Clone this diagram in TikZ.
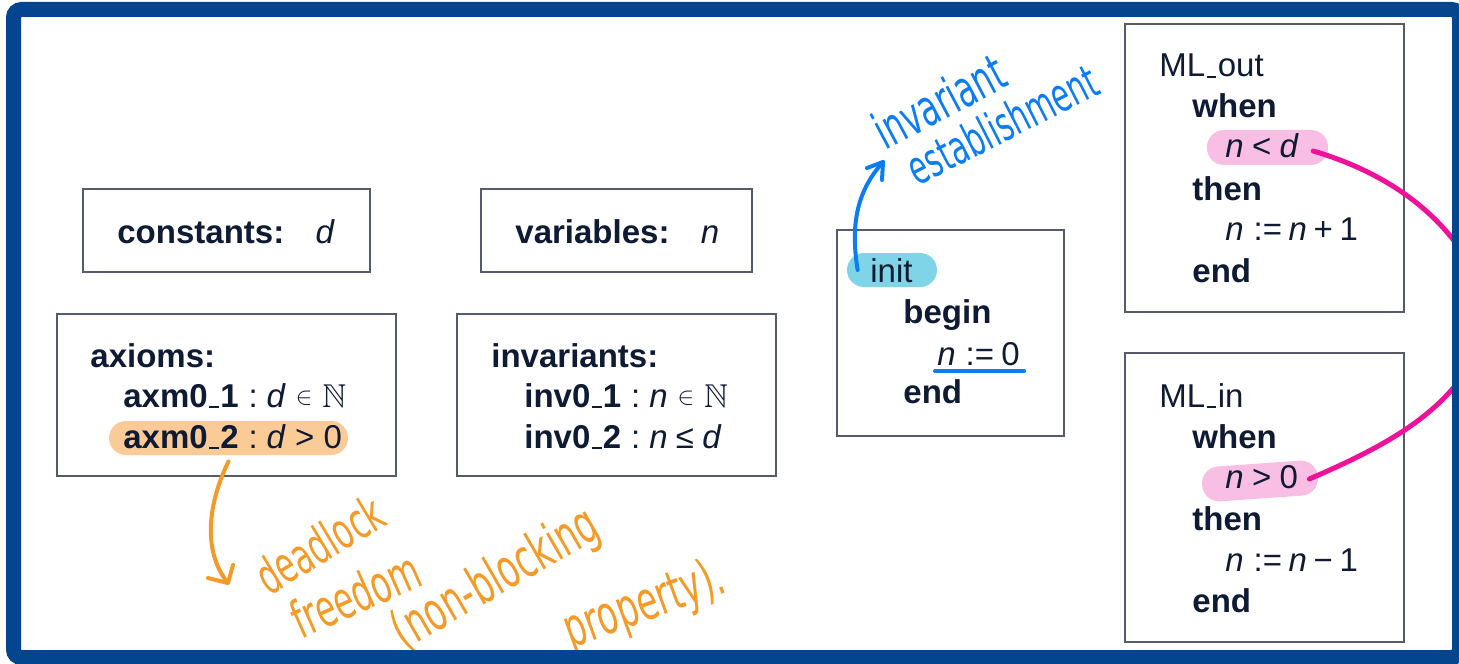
\documentclass[tikz,border=0pt]{standalone}
\usepackage{fontspec}
\usepackage{amssymb}
\setmainfont{Liberation Sans}
\newfontfamily\handfont{DejaVu Sans}[FakeStretch=0.62]
\usetikzlibrary{fit,calc}

\definecolor{framecol}{HTML}{03468F}
\definecolor{boxline}{HTML}{555B6B}
\definecolor{ink}{HTML}{0F1A33}
\definecolor{orangehl}{HTML}{FBCB97}
\definecolor{orangepen}{HTML}{F39A27}
\definecolor{cyanhl}{HTML}{80D4E8}
\definecolor{bluepen}{HTML}{0B7DF2}
\definecolor{pinkhl}{HTML}{F9BEE4}
\definecolor{pinkpen}{HTML}{EE129B}

% italic variable names, the short low underscore of the labels,
% operator spacing and a small membership sign
\newcommand\vi[1]{\textit{#1}}
\newcommand\usc{\kern0.04em\rule[-0.03em]{0.3em}{0.075em}\kern0.04em}
\newcommand\tsp{\hspace{0.2em}}
\newcommand\smallin{\raisebox{0.12ex}{\scalebox{0.72}{$\in$}}}
\newcommand\lbl[1]{\textbf{#1}\hspace{0.3em}:\hspace{0.27em}}

\tikzset{
  box/.style={draw=boxline, line width=0.9pt, inner sep=0pt},
  txt/.style={anchor=base west, inner sep=0pt, text=ink,
              font=\fontsize{16.5}{20}\selectfont},
  hl/.style={rounded corners=8.5pt, inner sep=0pt, draw=none},
  pen/.style={line width=2pt, line cap=round, line join=round},
  hand/.style={anchor=base, inner sep=0pt, font=\handfont\fontsize{26}{28}\selectfont},
}

\begin{document}
\begin{tikzpicture}[x=0.5pt, y=-0.5pt]
\useasboundingbox[fill=white] (0,0) rectangle (1459,663);

% ---- highlights (behind the text) ----
\node[hl, fill=orangehl, fit={(109,421) (348,455)}] (axhl) {};
\node[hl, fill=cyanhl, fit={(847,253) (937,287)}] (inithl) {};
\node[hl, fill=pinkhl, fit={(1207,130) (1328,165)}] (outhl) {};
\node[hl, fill=pinkhl, minimum width=58pt, minimum height=17.5pt, rotate=4] (inhl) at (1260,481) {};

% ---- constants / variables ----
\node[box, fit={(83,189) (370,272)}] (constbox) {};
\node[txt] (consttxt) at (117,243) {\bfseries constants:\hspace{0.95em}\mdseries\vi{d}};
\node[box, fit={(481,189) (752,272)}] (varbox) {};
\node[txt] (vartxt) at (515,243) {\bfseries variables:\hspace{0.95em}\mdseries\vi{n}};

% ---- axioms ----
\node[box, fit={(57,314) (396,476)}] (axbox) {};
\node[txt] (axhead) at (90,367) {\bfseries axioms:};
\node[txt] (axone) at (123,407) {\lbl{axm0\usc1}\vi{d}\hspace{0.3em}\smallin\hspace{0.3em}$\mathbb{N}$};
\node[txt] (axtwo) at (123,448) {\lbl{axm0\usc2}\vi{d}\hspace{0.28em}>\hspace{0.28em}0};

% ---- invariants ----
\node[box, fit={(457,314) (776,476)}] (invbox) {};
\node[txt] (invhead) at (491,367) {\bfseries invariants:};
\node[txt] (invone) at (524,407) {\lbl{inv0\usc1}\vi{n}\hspace{0.3em}\smallin\hspace{0.3em}$\mathbb{N}$};
\node[txt] (invtwo) at (524,448) {\lbl{inv0\usc2}\vi{n}\hspace{0.25em}≤\hspace{0.25em}\vi{d}};

% ---- init event ----
\node[box, fit={(837,230) (1064,436)}] (initbox) {};
\node[txt] (initname) at (870,282) {init};
\node[txt] (initbegin) at (903,323) {\bfseries begin};
\node[txt] (initasg) at (937,365) {\vi{n}\hspace{0.3em}:=\hspace{0.22em}0};
\node[txt] (initend) at (903,403) {\bfseries end};

% ---- ML_out event ----
\node[box, fit={(1125,24) (1404,312)}] (outbox) {};
\node[txt] (outname) at (1159,77) {ML\usc out};
\node[txt] (outwhen) at (1192,118) {\bfseries when};
\node[txt] (outgrd) at (1225,158) {\vi{n}\hspace{0.25em}<\hspace{0.25em}\vi{d}};
\node[txt] (outthen) at (1192,200) {\bfseries then};
\node[txt] (outact) at (1225,241) {\vi{n}\hspace{0.3em}:=\tsp\vi{n}\tsp+\tsp1};
\node[txt] (outend) at (1192,282) {\bfseries end};

% ---- ML_in event ----
\node[box, fit={(1125,353) (1404,642)}] (inbox) {};
\node[txt] (inname) at (1159,407) {ML\usc in};
\node[txt] (inwhen) at (1192,448) {\bfseries when};
\node[txt] (ingrd) at (1225,488) {\vi{n}\hspace{0.25em}>\hspace{0.25em}0};
\node[txt] (inthen) at (1192,530) {\bfseries then};
\node[txt] (inact) at (1225,571) {\vi{n}\hspace{0.3em}:=\tsp\vi{n}\tsp−\tsp1};
\node[txt] (inend) at (1192,612) {\bfseries end};

% ---- blue pen: invariant establishment ----
\draw[pen, bluepen] ([yshift=-3pt, xshift=-1pt]initasg.base west) -- ([yshift=-3pt, xshift=2pt]initasg.base east);
\coordinate (bluetip) at (883,162);
\draw[pen, bluepen] ([xshift=5.5pt]inithl.west) .. controls (850,222) and (858,190) .. (bluetip);
\draw[pen, bluepen] ($(bluetip)+(-16,6)$) -- (bluetip) -- ($(bluetip)+(-1,18)$);
\node[hand, text=bluepen, rotate=28, font=\handfont\fontsize{25.5}{28}\selectfont] (invlabel) at (948,118) {invariant};
\node[hand, text=bluepen, rotate=27, font=\handfont\fontsize{23.5}{26}\selectfont] (estlabel) at (1010,140) {establishment};

% ---- orange pen: deadlock freedom ----
\coordinate (orangetip) at (228,583);
\draw[pen, orangepen] ([yshift=-3pt]axhl.south) .. controls (205,510) and (205,555) .. (orangetip);
\draw[pen, orangepen] ($(orangetip)+(-20,-5)$) -- (orangetip) -- ($(orangetip)+(5,-18)$);
\node[hand, text=orangepen, rotate=31, font=\handfont\fontsize{25}{28}\selectfont] (dlabel) at (329,560) {deadlock};
\node[hand, text=orangepen, rotate=24, font=\handfont\fontsize{26}{28}\selectfont] (flabel) at (363,612) {freedom};
\node[hand, text=orangepen, rotate=30, font=\handfont\fontsize{27}{28}\selectfont] (nblabel) at (504,593) {(non-blocking};
\node[hand, text=orangepen, rotate=20, font=\handfont\fontsize{27}{28}\selectfont] (plabel) at (650,620) {property).};

% ---- pink pen: the two guards joined ----
\coordinate (pinkfar) at (1490,315);
\draw[pen, pinkpen, line width=2.5pt]
  ([xshift=7pt, yshift=3.5pt]outgrd.base east) .. controls (1405,178) and (1470,235) .. (pinkfar)
  .. controls (1470,400) and (1400,440) .. ([xshift=5.5pt, yshift=4.5pt]ingrd.base east);

% ---- slide frame ----
\draw[framecol, line width=7.5pt, rounded corners=4pt] (13.5,9.5) rectangle (1459.5,657.5);
\end{tikzpicture}
\end{document}
